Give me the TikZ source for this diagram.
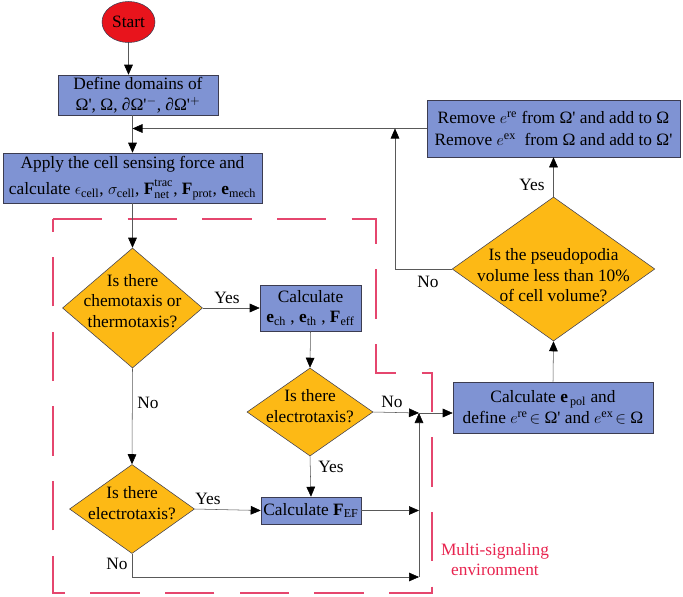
\documentclass[tikz,border=0pt]{standalone}
\usepackage{amsmath}
\usepackage{fontspec}
\setmainfont{Liberation Serif}
\usetikzlibrary{shapes.geometric,arrows.meta,calc}
\definecolor{boxblue}{HTML}{7F93D3}
\definecolor{decgold}{HTML}{FDB915}
\definecolor{startred}{HTML}{E8141C}
\definecolor{zonered}{HTML}{E5466E}
\definecolor{zonetext}{HTML}{E8244F}
\definecolor{edgegray}{HTML}{3C3C50}
\newcommand{\dtxt}[2][0pt]{\makebox[0pt]{\smash{\raisebox{#1}{\begin{tabular}{@{}c@{}}#2\end{tabular}}}}}
\newcommand{\omp}{Ω\textquotesingle}

\begin{document}
\begin{tikzpicture}[x=0.75pt,y=-0.75pt,
  font=\fontsize{13}{15.5}\selectfont,
  proc/.style={draw=edgegray, fill=boxblue, rectangle, inner sep=0pt, align=center},
  dec/.style={draw=edgegray, fill=decgold, diamond, inner sep=0pt},
  flow/.style={draw=black!65, -{Triangle[length=7.5pt,width=6.5pt,black]}},
  link/.style={draw=black!65},
  lbl/.style={inner sep=1pt}]
 \useasboundingbox (0,0) rectangle (683,597);
 % multi-signaling zone
 \draw[draw=zonered, line width=0.8pt, dash pattern=on 37pt off 19pt]
   (53,219) -- (376,219) -- (376,373) -- (432,373) -- (432,593) -- (53,593) -- cycle;
 \node[zonetext, align=center, font=\fontsize{13}{15}\selectfont] (zone) at (495,560) {Multi-signaling\\environment};

 % nodes
 \node[ellipse, draw=edgegray, fill=startred, minimum width=39.75pt, minimum height=30.75pt, inner sep=0pt] (start) at (128.5,22) {Start};
 \node[proc, minimum width=120pt, minimum height=30pt] (define) at (138,95)
   {Define domains of\\\omp, Ω, ∂\omp$^{-}$, ∂\omp$^{+}$};
 \node[proc, minimum width=194pt, minimum height=37.5pt] (apply) at (132.5,178)
   {Apply the cell sensing force and\\[4pt]calculate $\epsilon_{\mathrm{cell}}$, $\sigma_{\mathrm{cell}}$, $\mathbf{F}^{\raisebox{2pt}{$\scriptstyle\mathrm{trac}$}}_{\mathrm{net}}$, $\mathbf{F}_{\mathrm{prot}}$, $\mathbf{e}_{\mathrm{mech}}$};
 \node[dec, minimum width=105pt, minimum height=90pt] (chemo) at (132.5,308)
   {\dtxt[1pt]{Is there\\chemotaxis or\\thermotaxis?}};
 \node[proc, minimum width=75.75pt, minimum height=34.5pt] (ech) at (310.5,308)
   {Calculate\\$\mathbf{e}_{\mathrm{ch}}$ , $\mathbf{e}_{\mathrm{th}}$ , $\mathbf{F}_{\mathrm{eff}}$};
 \node[dec, minimum width=94.5pt, minimum height=66pt] (elecA) at (310,412)
   {\dtxt{Is there\\electrotaxis?}};
 \node[dec, minimum width=93.75pt, minimum height=66.75pt] (elecB) at (132,509)
   {\dtxt{Is there\\electrotaxis?}};
 \node[proc, minimum width=75pt, minimum height=20.25pt] (fef) at (311,510.5)
   {Calculate $\mathbf{F}_{\mathrm{EF}}$};
 \node[proc, minimum width=150pt, minimum height=38.25pt] (epol) at (553,407.5)
   {Calculate $\mathbf{e}_{\,\mathrm{pol}}$ and\\define $e^{\mathrm{re}}\!\in$ \omp\ and $e^{\mathrm{ex}}\!\in$ Ω};
 \node[dec, minimum width=152pt, minimum height=108pt] (pseudo) at (553.5,269)
   {\dtxt[-9pt]{Is the pseudopodia\\volume less than 10\%\\of cell volume?}};
 \node[proc, minimum width=190pt, minimum height=42.75pt] (remove) at (553.5,128.5)
   {Remove $e^{\mathrm{re}}$ from \omp\ and add to Ω\\[1pt]Remove $e^{\mathrm{ex}}$ \ from Ω and add to \omp};

 \coordinate (loop) at (apply.north |- remove.west);
 \coordinate (nocol) at (395,269);
 \coordinate (merge) at (419,413);
 \coordinate (sink) at (419,577);

 % connectors
 \draw[flow] (start) -- (start |- define.north);
 \draw[flow] (apply.north |- define.south) -- (apply.north);
 \draw[flow] (remove.west) -- (loop);
 \draw[link] (pseudo.west) -- (nocol);
 \draw[flow] (nocol) -- (nocol |- remove.west);
 \draw[flow] (pseudo.north) -- (remove.south);
 \draw[flow] (epol.north) -- (pseudo.south);
 \draw[flow] (apply.south) -- (chemo.north);
 \draw[flow] (chemo.east) -- (ech.west);
 \draw[flow] (ech.south) -- (elecA.north);
 \draw[flow] (chemo.south) -- (elecB.north);
 \draw[flow] (elecB.east) -- (fef.west);
 \draw[flow] (elecA.south) -- (fef.north);
 \draw[flow] (elecA.east) -- (merge);
 \draw[flow] (fef.east) -- (fef.east -| merge);
 \draw[flow] (elecB.south) |- (sink);
 \draw[flow] (sink) -- (merge);
 \draw[flow] (merge) -- (merge -| epol.west);

 % labels
 \node[lbl] (yesA) at (227,298) {Yes};
 \node[lbl] (noA) at (148,403) {No};
 \node[lbl] (yesB) at (208,499) {Yes};
 \node[lbl] (noB) at (117,564) {No};
 \node[lbl] (yesC) at (331,467) {Yes};
 \node[lbl] (noC) at (392,402) {No};
 \node[lbl] (noD) at (428,282) {No};
 \node[lbl] (yesD) at (532,185) {Yes};
\end{tikzpicture}
\end{document}
